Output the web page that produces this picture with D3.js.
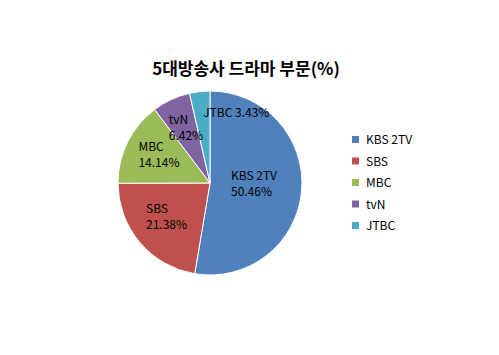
<!DOCTYPE html>
<html>
<head>
<meta charset="utf-8">
<script src="https://cdn.jsdelivr.net/npm/d3@7"></script>
<style>
  body { margin: 0; background: #fff; }
  text { font-family: "Noto Sans CJK KR", "Noto Sans", sans-serif; fill: #000; }
</style>
</head>
<body>
<svg id="chart" width="499" height="355"></svg>
<script>
var title = "5대방송사 드라마 부문(%)";
var names = ["KBS 2TV", "SBS", "MBC", "tvN", "JTBC"];
var shares = [50.46, 21.38, 14.14, 6.42, 3.43];
var colors = ["#4F81BD", "#C0504D", "#9BBB59", "#8064A2", "#4BACC6"];

var svg = d3.select("#chart");
var cx = 210, cy = 183, r = 92;

svg.append("text")
  .attr("x", 246).attr("y", 75)
  .attr("text-anchor", "middle")
  .style("font-size", "17px").style("font-weight", "bold")
  .text(title);

var data = names.map(function(n, i) { return {name: n, value: shares[i]}; });
var pie = d3.pie().sort(null).value(function(d) { return d.value; });
var arcs = pie(data);
var arc = d3.arc().innerRadius(0).outerRadius(r);
var color = d3.scaleOrdinal().domain(names).range(colors);

var g = svg.append("g").attr("transform", "translate(" + cx + "," + cy + ")");
g.selectAll("path").data(arcs).enter().append("path")
  .attr("d", arc)
  .attr("fill", function(d) { return color(d.data.name); })
  .attr("stroke", "#fff").attr("stroke-width", 1);

// labels: two left-aligned lines centred on the centroid, small slice gets one line
var labelArc = d3.arc().innerRadius(r * 0.62).outerRadius(r * 0.62);
var kbsArc = d3.arc().innerRadius(r * 0.48).outerRadius(r * 0.48);
arcs.forEach(function(d, i) {
  var small = d.data.value < 5;
  var pct = d.data.value.toFixed(2) + "%";
  var t = g.append("text").style("font-size", "12px");
  if (small) {
    var c2 = d3.arc().innerRadius(r * 0.76).outerRadius(r * 0.76).centroid(d);
    t.attr("x", c2[0] + 1).attr("y", c2[1] + 3).text(d.data.name + " " + pct);
  } else {
    var c = (i == 0 ? kbsArc : labelArc).centroid(d);
    var a = t.append("tspan").attr("y", c[1] - 7).text(d.data.name);
    var b = t.append("tspan").attr("y", c[1] + 9).text(pct);
    var w = Math.max(a.node().getComputedTextLength(), b.node().getComputedTextLength());
    a.attr("x", c[0] - w / 2);
    b.attr("x", c[0] - w / 2);
  }
});

var legend = svg.append("g").attr("transform", "translate(352,140)");
var item = legend.selectAll("g").data(names).enter().append("g")
  .attr("transform", function(d, i) { return "translate(0," + (i * 21.5) + ")"; });
item.append("rect").attr("x", 0).attr("y", -4).attr("width", 7).attr("height", 7)
  .attr("fill", function(d) { return color(d); });
item.append("text").attr("x", 14).attr("y", 4).style("font-size", "12px")
  .text(function(d) { return d; });
</script>
</body>
</html>
